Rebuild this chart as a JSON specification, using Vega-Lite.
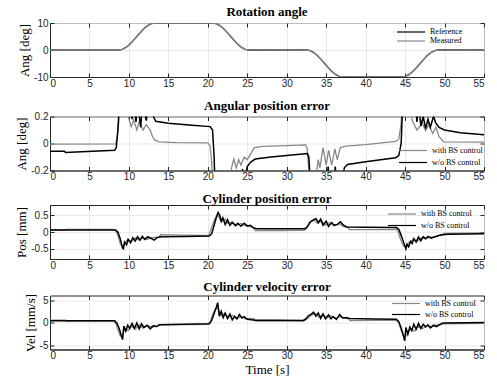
{
  "$schema": "https://vega.github.io/schema/vega-lite/v6.json",
  "background": "white",
  "padding": {"left": 15, "top": 5, "right": 5, "bottom": 5},
  "spacing": 9.5,
  "resolve": {"scale": {"color": "independent"}},
  "config": {
    "view": {"stroke": "#262626", "strokeWidth": 1},
    "axis": {
      "labelFont": "Liberation Sans", "labelFontSize": 10, "labelColor": "#262626",
      "titleFont": "Liberation Serif", "titleFontSize": 13, "titleFontWeight": "normal", "titleColor": "#000000",
      "gridColor": "#e3e3e3", "gridWidth": 0.8, "domainColor": "#262626", "tickColor": "#262626",
      "tickSize": -4, "labelExpr": "toString(datum.value)"
    },
    "axisX": {"labelPadding": 5, "titlePadding": 3},
    "axisY": {"labelPadding": 6, "titlePadding": 2},
    "title": {"font": "Liberation Serif", "fontSize": 13, "fontWeight": "bold", "color": "#000000", "offset": -1},
    "legend": {"labelFont": "Liberation Serif", "labelFontSize": 8, "labelColor": "#000000", "symbolType": "M-1,0H6", "symbolSize": 64, "symbolStrokeWidth": 1.2, "labelOffset": 24, "padding": 0, "orient": "none"}
  },
  "datasets": {
    "p1": [
      {"t": 0, "ref": 0, "meas": 0}, {"t": 8.7, "ref": 0, "meas": 0}, {"t": 9.16, "ref": 0.24, "meas": 0.22},
      {"t": 9.62, "ref": 0.95, "meas": 0.92}, {"t": 10.08, "ref": 2.06, "meas": 2.02}, {"t": 10.54, "ref": 3.46, "meas": 3.42},
      {"t": 11.0, "ref": 5, "meas": 4.96}, {"t": 11.46, "ref": 6.54, "meas": 6.5}, {"t": 11.92, "ref": 7.94, "meas": 7.9},
      {"t": 12.38, "ref": 9.05, "meas": 9.02}, {"t": 12.84, "ref": 9.76, "meas": 9.74}, {"t": 13.3, "ref": 10, "meas": 9.98},
      {"t": 20.6, "ref": 10, "meas": 10}, {"t": 21.06, "ref": 9.76, "meas": 9.78}, {"t": 21.52, "ref": 9.05, "meas": 9.08},
      {"t": 21.98, "ref": 7.94, "meas": 7.98}, {"t": 22.44, "ref": 6.54, "meas": 6.58}, {"t": 22.9, "ref": 5, "meas": 5.04},
      {"t": 23.36, "ref": 3.46, "meas": 3.5}, {"t": 23.82, "ref": 2.06, "meas": 2.1}, {"t": 24.28, "ref": 0.95, "meas": 0.98},
      {"t": 24.74, "ref": 0.24, "meas": 0.26}, {"t": 25.2, "ref": 0, "meas": 0.01}, {"t": 32.5, "ref": 0, "meas": 0},
      {"t": 32.96, "ref": -0.24, "meas": -0.22}, {"t": 33.42, "ref": -0.95, "meas": -0.92}, {"t": 33.88, "ref": -2.06, "meas": -2.02},
      {"t": 34.34, "ref": -3.46, "meas": -3.42}, {"t": 34.8, "ref": -5, "meas": -4.96}, {"t": 35.26, "ref": -6.54, "meas": -6.5},
      {"t": 35.72, "ref": -7.94, "meas": -7.9}, {"t": 36.18, "ref": -9.05, "meas": -9.02}, {"t": 36.64, "ref": -9.76, "meas": -9.74},
      {"t": 37.1, "ref": -10, "meas": -9.98}, {"t": 44.6, "ref": -10, "meas": -10}, {"t": 45.06, "ref": -9.76, "meas": -9.78},
      {"t": 45.52, "ref": -9.05, "meas": -9.08}, {"t": 45.98, "ref": -7.94, "meas": -7.98}, {"t": 46.44, "ref": -6.54, "meas": -6.58},
      {"t": 46.9, "ref": -5, "meas": -5.04}, {"t": 47.36, "ref": -3.46, "meas": -3.5}, {"t": 47.82, "ref": -2.06, "meas": -2.1},
      {"t": 48.28, "ref": -0.95, "meas": -0.98}, {"t": 48.74, "ref": -0.24, "meas": -0.26}, {"t": 49.2, "ref": 0, "meas": -0.01},
      {"t": 55, "ref": 0, "meas": 0}
    ],
    "p2w": [
      {"t": 0, "v": -0.005}, {"t": 8.3, "v": -0.003}, {"t": 8.5, "v": 0.03}, {"t": 8.7, "v": 0.15}, {"t": 8.85, "v": 0.3},
      {"t": 9.8, "v": 0.3}, {"t": 9.9, "v": 0.2}, {"t": 10.3, "v": 0.125}, {"t": 10.6, "v": 0.175}, {"t": 11.0, "v": 0.1},
      {"t": 11.3, "v": 0.16}, {"t": 11.8, "v": 0.1}, {"t": 12.2, "v": 0.14}, {"t": 12.7, "v": 0.1}, {"t": 13.0, "v": 0.05},
      {"t": 13.3, "v": 0.025}, {"t": 13.8, "v": 0.012}, {"t": 16, "v": 0.007}, {"t": 20.0, "v": 0.005}, {"t": 20.3, "v": -0.02},
      {"t": 20.5, "v": -0.15}, {"t": 20.6, "v": -0.3}, {"t": 22.8, "v": -0.3}, {"t": 23.0, "v": -0.18}, {"t": 23.3, "v": -0.115},
      {"t": 23.6, "v": -0.18}, {"t": 23.9, "v": -0.12}, {"t": 24.2, "v": -0.16}, {"t": 24.6, "v": -0.1}, {"t": 25.0, "v": -0.12},
      {"t": 25.5, "v": -0.07}, {"t": 25.9, "v": -0.03}, {"t": 27, "v": -0.022}, {"t": 30, "v": -0.015}, {"t": 32.4, "v": -0.01},
      {"t": 32.6, "v": -0.04}, {"t": 32.8, "v": -0.2}, {"t": 32.9, "v": -0.3}, {"t": 33.7, "v": -0.3}, {"t": 33.8, "v": -0.2},
      {"t": 34.0, "v": -0.12}, {"t": 34.2, "v": -0.18}, {"t": 34.6, "v": -0.03}, {"t": 35.0, "v": -0.16}, {"t": 35.3, "v": -0.05},
      {"t": 35.7, "v": -0.16}, {"t": 36.1, "v": -0.04}, {"t": 36.4, "v": -0.12}, {"t": 36.8, "v": -0.03}, {"t": 37.5, "v": -0.02},
      {"t": 40, "v": -0.008}, {"t": 43.8, "v": 0.016}, {"t": 44.2, "v": 0.03}, {"t": 44.5, "v": 0.15}, {"t": 44.6, "v": 0.3},
      {"t": 45.7, "v": 0.3}, {"t": 45.9, "v": 0.17}, {"t": 46.5, "v": 0.1}, {"t": 47.2, "v": 0.15}, {"t": 47.6, "v": 0.095},
      {"t": 48.0, "v": 0.14}, {"t": 48.5, "v": 0.074}, {"t": 48.9, "v": 0.12}, {"t": 49.3, "v": 0.05}, {"t": 49.9, "v": 0.012},
      {"t": 55, "v": 0.01}
    ],
    "p2o": [
      {"t": 0, "v": -0.057}, {"t": 1.85, "v": -0.057}, {"t": 1.95, "v": -0.067}, {"t": 4, "v": -0.062}, {"t": 8.2, "v": -0.05},
      {"t": 8.4, "v": -0.03}, {"t": 8.6, "v": 0.1}, {"t": 8.8, "v": 0.3}, {"t": 10.3, "v": 0.3}, {"t": 10.4, "v": 0.18},
      {"t": 10.6, "v": 0.3}, {"t": 10.9, "v": 0.16}, {"t": 11.1, "v": 0.3}, {"t": 11.5, "v": 0.12}, {"t": 11.7, "v": 0.3},
      {"t": 12.2, "v": 0.17}, {"t": 12.5, "v": 0.3}, {"t": 13.1, "v": 0.2}, {"t": 13.4, "v": 0.165}, {"t": 15, "v": 0.15},
      {"t": 18, "v": 0.135}, {"t": 20.3, "v": 0.125}, {"t": 20.6, "v": 0.1}, {"t": 20.8, "v": -0.1}, {"t": 20.9, "v": -0.3},
      {"t": 24.2, "v": -0.3}, {"t": 24.4, "v": -0.19}, {"t": 24.6, "v": -0.3}, {"t": 25.0, "v": -0.17}, {"t": 25.4, "v": -0.14},
      {"t": 26, "v": -0.115}, {"t": 28, "v": -0.1}, {"t": 32.6, "v": -0.075}, {"t": 32.8, "v": -0.1}, {"t": 33.0, "v": -0.3},
      {"t": 35.1, "v": -0.3}, {"t": 35.25, "v": -0.17}, {"t": 35.4, "v": -0.3}, {"t": 36.0, "v": -0.3}, {"t": 36.15, "v": -0.17},
      {"t": 36.3, "v": -0.3}, {"t": 37.0, "v": -0.3}, {"t": 37.3, "v": -0.18}, {"t": 37.7, "v": -0.155}, {"t": 40, "v": -0.135},
      {"t": 43.8, "v": -0.105}, {"t": 44.2, "v": -0.09}, {"t": 44.5, "v": 0.0}, {"t": 44.7, "v": 0.3}, {"t": 46.3, "v": 0.3},
      {"t": 46.5, "v": 0.16}, {"t": 46.7, "v": 0.3}, {"t": 47.0, "v": 0.13}, {"t": 47.3, "v": 0.2}, {"t": 47.6, "v": 0.11},
      {"t": 47.9, "v": 0.18}, {"t": 48.2, "v": 0.12}, {"t": 48.6, "v": 0.2}, {"t": 48.9, "v": 0.15}, {"t": 49.3, "v": 0.12},
      {"t": 50, "v": 0.1}, {"t": 52, "v": 0.08}, {"t": 55, "v": 0.065}
    ],
    "p3w": [
      {"t": 0, "v": 0.06}, {"t": 2, "v": 0.06}, {"t": 2.05, "v": 0.08}, {"t": 8.0, "v": 0.08}, {"t": 8.3, "v": 0.05},
      {"t": 8.6, "v": -0.1}, {"t": 8.9, "v": -0.35}, {"t": 9.2, "v": -0.45}, {"t": 9.5, "v": -0.3}, {"t": 9.9, "v": -0.22},
      {"t": 10.3, "v": -0.28}, {"t": 10.8, "v": -0.18}, {"t": 11.3, "v": -0.24}, {"t": 11.8, "v": -0.17}, {"t": 12.3, "v": -0.22},
      {"t": 12.8, "v": -0.17}, {"t": 13.3, "v": -0.16}, {"t": 13.9, "v": -0.15}, {"t": 14.0, "v": -0.08}, {"t": 17, "v": -0.09},
      {"t": 20.0, "v": -0.1}, {"t": 20.2, "v": -0.05}, {"t": 20.5, "v": 0.15}, {"t": 20.9, "v": 0.4}, {"t": 21.3, "v": 0.5},
      {"t": 21.7, "v": 0.3}, {"t": 22.2, "v": 0.38}, {"t": 22.6, "v": 0.25}, {"t": 23.1, "v": 0.3}, {"t": 23.6, "v": 0.2},
      {"t": 24.2, "v": 0.25}, {"t": 24.8, "v": 0.18}, {"t": 25.5, "v": 0.15}, {"t": 25.9, "v": 0.12}, {"t": 26.0, "v": 0.04},
      {"t": 29, "v": 0.045}, {"t": 32.2, "v": 0.05}, {"t": 32.5, "v": 0.1}, {"t": 32.9, "v": 0.28}, {"t": 33.4, "v": 0.38},
      {"t": 33.9, "v": 0.25}, {"t": 34.4, "v": 0.33}, {"t": 34.9, "v": 0.2}, {"t": 35.5, "v": 0.28}, {"t": 36.0, "v": 0.18},
      {"t": 36.6, "v": 0.25}, {"t": 37.2, "v": 0.16}, {"t": 37.8, "v": 0.14}, {"t": 37.9, "v": 0.07}, {"t": 41, "v": 0.07},
      {"t": 43.9, "v": 0.08}, {"t": 44.1, "v": 0.02}, {"t": 44.4, "v": -0.2}, {"t": 44.8, "v": -0.42}, {"t": 45.2, "v": -0.4},
      {"t": 45.6, "v": -0.28}, {"t": 46.1, "v": -0.22}, {"t": 46.6, "v": -0.27}, {"t": 47.1, "v": -0.17}, {"t": 47.6, "v": -0.2},
      {"t": 48.1, "v": -0.15}, {"t": 48.7, "v": -0.15}, {"t": 49.3, "v": -0.1}, {"t": 49.8, "v": -0.1}, {"t": 49.9, "v": -0.04},
      {"t": 55, "v": -0.03}
    ],
    "p3o": [
      {"t": 0, "v": 0.06}, {"t": 8.3, "v": 0.06}, {"t": 8.6, "v": 0.0}, {"t": 8.9, "v": -0.2}, {"t": 9.2, "v": -0.48},
      {"t": 9.3, "v": -0.5}, {"t": 9.45, "v": -0.3}, {"t": 9.7, "v": -0.38}, {"t": 9.9, "v": -0.22}, {"t": 10.2, "v": -0.32},
      {"t": 10.5, "v": -0.17}, {"t": 10.8, "v": -0.27}, {"t": 11.1, "v": -0.14}, {"t": 11.4, "v": -0.24}, {"t": 11.7, "v": -0.13},
      {"t": 12.0, "v": -0.22}, {"t": 12.4, "v": -0.14}, {"t": 12.8, "v": -0.19}, {"t": 13.2, "v": -0.24}, {"t": 13.6, "v": -0.16},
      {"t": 14.2, "v": -0.14}, {"t": 17, "v": -0.13}, {"t": 20.2, "v": -0.12}, {"t": 20.5, "v": -0.05}, {"t": 20.8, "v": 0.2},
      {"t": 21.1, "v": 0.45}, {"t": 21.3, "v": 0.58}, {"t": 21.5, "v": 0.5}, {"t": 21.7, "v": 0.32}, {"t": 21.9, "v": 0.42},
      {"t": 22.2, "v": 0.22}, {"t": 22.5, "v": 0.36}, {"t": 22.8, "v": 0.2}, {"t": 23.1, "v": 0.28}, {"t": 23.5, "v": 0.19},
      {"t": 23.8, "v": 0.26}, {"t": 24.2, "v": 0.17}, {"t": 24.6, "v": 0.26}, {"t": 25.0, "v": 0.18}, {"t": 25.4, "v": 0.2},
      {"t": 25.8, "v": 0.12}, {"t": 26.2, "v": 0.1}, {"t": 29, "v": 0.1}, {"t": 32.3, "v": 0.1}, {"t": 32.6, "v": 0.15},
      {"t": 33.0, "v": 0.3}, {"t": 33.4, "v": 0.35}, {"t": 33.7, "v": 0.4}, {"t": 34.0, "v": 0.28}, {"t": 34.3, "v": 0.38},
      {"t": 34.6, "v": 0.2}, {"t": 35.0, "v": 0.32}, {"t": 35.3, "v": 0.17}, {"t": 35.7, "v": 0.28}, {"t": 36.0, "v": 0.2},
      {"t": 36.4, "v": 0.22}, {"t": 36.8, "v": 0.3}, {"t": 37.2, "v": 0.2}, {"t": 37.6, "v": 0.15}, {"t": 40, "v": 0.14},
      {"t": 43.9, "v": 0.13}, {"t": 44.2, "v": 0.08}, {"t": 44.5, "v": -0.1}, {"t": 44.8, "v": -0.3}, {"t": 45.1, "v": -0.5},
      {"t": 45.25, "v": -0.36}, {"t": 45.45, "v": -0.44}, {"t": 45.7, "v": -0.28}, {"t": 45.9, "v": -0.34}, {"t": 46.1, "v": -0.2},
      {"t": 46.4, "v": -0.3}, {"t": 46.7, "v": -0.15}, {"t": 47.0, "v": -0.26}, {"t": 47.3, "v": -0.14}, {"t": 47.6, "v": -0.2},
      {"t": 47.9, "v": -0.13}, {"t": 48.3, "v": -0.18}, {"t": 48.7, "v": -0.15}, {"t": 49.1, "v": -0.12}, {"t": 49.6, "v": -0.08},
      {"t": 50.5, "v": -0.07}, {"t": 55, "v": -0.055}
    ],
    "p4w": [
      {"t": 0, "v": 0.5}, {"t": 2, "v": 0.5}, {"t": 2.05, "v": 0.3}, {"t": 8.0, "v": 0.3}, {"t": 8.3, "v": 0.0},
      {"t": 8.6, "v": -1.5}, {"t": 8.9, "v": -3.0}, {"t": 9.2, "v": -2.8}, {"t": 9.5, "v": -1.3}, {"t": 9.9, "v": -1.8},
      {"t": 10.3, "v": -0.8}, {"t": 10.8, "v": -1.4}, {"t": 11.3, "v": -0.6}, {"t": 11.8, "v": -1.2}, {"t": 12.4, "v": -0.7},
      {"t": 13.0, "v": -1.0}, {"t": 13.6, "v": -0.8}, {"t": 13.8, "v": -0.5}, {"t": 17, "v": -0.45}, {"t": 20.0, "v": -0.4},
      {"t": 20.3, "v": 0.2}, {"t": 20.6, "v": 1.8}, {"t": 21.0, "v": 3.2}, {"t": 21.3, "v": 3.0}, {"t": 21.7, "v": 1.5},
      {"t": 22.1, "v": 2.0}, {"t": 22.6, "v": 1.1}, {"t": 23.1, "v": 1.6}, {"t": 23.6, "v": 0.9}, {"t": 24.2, "v": 1.3},
      {"t": 24.8, "v": 0.8}, {"t": 25.4, "v": 0.9}, {"t": 25.9, "v": 0.8}, {"t": 26.0, "v": 0.3}, {"t": 29, "v": 0.3},
      {"t": 32.2, "v": 0.35}, {"t": 32.6, "v": 0.8}, {"t": 33.1, "v": 1.6}, {"t": 33.6, "v": 2.0}, {"t": 34.1, "v": 1.2},
      {"t": 34.6, "v": 1.8}, {"t": 35.1, "v": 1.0}, {"t": 35.6, "v": 1.5}, {"t": 36.2, "v": 0.9}, {"t": 36.8, "v": 1.3},
      {"t": 37.4, "v": 0.9}, {"t": 37.9, "v": 0.8}, {"t": 38.0, "v": 0.4}, {"t": 41, "v": 0.45}, {"t": 43.9, "v": 0.5},
      {"t": 44.2, "v": 0.0}, {"t": 44.5, "v": -1.8}, {"t": 44.9, "v": -3.3}, {"t": 45.3, "v": -2.5}, {"t": 45.7, "v": -1.4},
      {"t": 46.2, "v": -1.9}, {"t": 46.7, "v": -0.9}, {"t": 47.2, "v": -1.4}, {"t": 47.7, "v": -0.7}, {"t": 48.3, "v": -1.0},
      {"t": 48.9, "v": -0.6}, {"t": 49.5, "v": -0.5}, {"t": 49.8, "v": -0.3}, {"t": 55, "v": -0.2}
    ],
    "p4o": [
      {"t": 0, "v": 0.4}, {"t": 8.2, "v": 0.4}, {"t": 8.5, "v": -0.2}, {"t": 8.8, "v": -1.5}, {"t": 9.05, "v": -3.0},
      {"t": 9.2, "v": -3.8}, {"t": 9.35, "v": -0.8}, {"t": 9.6, "v": -1.9}, {"t": 9.85, "v": -0.6}, {"t": 10.1, "v": -1.3},
      {"t": 10.4, "v": -0.2}, {"t": 10.7, "v": -1.3}, {"t": 11.0, "v": -0.1}, {"t": 11.3, "v": -1.4}, {"t": 11.6, "v": -0.3},
      {"t": 11.9, "v": -1.1}, {"t": 12.3, "v": -0.6}, {"t": 12.7, "v": -1.4}, {"t": 13.1, "v": -0.7}, {"t": 13.5, "v": -0.9},
      {"t": 13.9, "v": -0.5}, {"t": 17, "v": -0.4}, {"t": 20.2, "v": -0.3}, {"t": 20.5, "v": 0.5}, {"t": 20.8, "v": 2.0},
      {"t": 21.1, "v": 3.5}, {"t": 21.25, "v": 4.4}, {"t": 21.45, "v": 1.4}, {"t": 21.7, "v": 2.5}, {"t": 21.95, "v": 1.1},
      {"t": 22.2, "v": 2.1}, {"t": 22.5, "v": 0.9}, {"t": 22.8, "v": 1.9}, {"t": 23.1, "v": 0.6}, {"t": 23.4, "v": 1.4},
      {"t": 23.7, "v": 0.8}, {"t": 24.0, "v": 1.8}, {"t": 24.3, "v": 1.0}, {"t": 24.6, "v": 1.3}, {"t": 25.0, "v": 0.7},
      {"t": 25.5, "v": 0.6}, {"t": 26, "v": 0.5}, {"t": 29, "v": 0.5}, {"t": 32.1, "v": 0.45}, {"t": 32.4, "v": 0.8},
      {"t": 32.8, "v": 1.6}, {"t": 33.1, "v": 1.8}, {"t": 33.4, "v": 2.3}, {"t": 33.7, "v": 1.4}, {"t": 34.0, "v": 2.1},
      {"t": 34.3, "v": 0.9}, {"t": 34.6, "v": 1.9}, {"t": 34.9, "v": 0.8}, {"t": 35.3, "v": 1.7}, {"t": 35.6, "v": 0.8},
      {"t": 35.9, "v": 1.3}, {"t": 36.3, "v": 0.7}, {"t": 36.7, "v": 1.8}, {"t": 37.1, "v": 1.0}, {"t": 37.5, "v": 1.1},
      {"t": 38, "v": 0.9}, {"t": 41, "v": 0.8}, {"t": 43.9, "v": 0.7}, {"t": 44.2, "v": 0.2}, {"t": 44.5, "v": -1.2},
      {"t": 44.8, "v": -3.0}, {"t": 44.95, "v": -4.1}, {"t": 45.1, "v": -1.1}, {"t": 45.35, "v": -2.6}, {"t": 45.6, "v": -1.0},
      {"t": 45.85, "v": -1.8}, {"t": 46.1, "v": -0.4}, {"t": 46.4, "v": -1.5}, {"t": 46.7, "v": -0.2}, {"t": 47.0, "v": -1.3},
      {"t": 47.3, "v": -0.4}, {"t": 47.6, "v": -1.0}, {"t": 47.9, "v": -0.5}, {"t": 48.2, "v": -1.2}, {"t": 48.6, "v": -0.6},
      {"t": 49.0, "v": -0.9}, {"t": 49.4, "v": -0.4}, {"t": 49.8, "v": -0.1}, {"t": 55, "v": 0.0}
    ]
  },
  "vconcat": [
    {
      "title": "Rotation angle",
      "width": 434, "height": 54,
      "resolve": {"axis": {"x": "independent", "y": "independent"}},
      "layer": [
        {
          "data": {"name": "p1"},
          "mark": {"type": "line", "strokeWidth": 1.3, "clip": true},
          "encoding": {
            "x": {"field": "t", "type": "quantitative", "scale": {"domain": [0, 55], "nice": false},
                  "axis": {"title": null, "values": [0, 5, 10, 15, 20, 25, 30, 35, 40, 45, 50, 55]}},
            "y": {"field": "ref", "type": "quantitative", "scale": {"domain": [-10, 10], "nice": false},
                  "axis": {"title": "Ang [deg]", "values": [-10, 0, 10]}},
            "color": {"datum": "Reference", "type": "nominal",
                      "scale": {"domain": ["Reference", "Measured"], "range": ["#000000", "#888888"]},
                      "legend": {"title": null, "legendX": 346, "legendY": 4, "rowPadding": 0}}
          }
        },
        {
          "data": {"name": "p1"},
          "mark": {"type": "line", "strokeWidth": 1.3, "clip": true},
          "encoding": {
            "x": {"field": "t", "type": "quantitative",
                  "axis": {"orient": "top", "title": null, "labels": false, "grid": false, "domain": false, "values": [0, 5, 10, 15, 20, 25, 30, 35, 40, 45, 50, 55]}},
            "y": {"field": "meas", "type": "quantitative",
                  "axis": {"orient": "right", "title": null, "labels": false, "grid": false, "domain": false, "values": [-10, 0, 10]}},
            "color": {"datum": "Measured", "type": "nominal"}
          }
        }
      ]
    },
    {
      "title": "Angular position error",
      "width": 434, "height": 54,
      "resolve": {"axis": {"x": "independent", "y": "independent"}},
      "layer": [
        {
          "data": {"name": "p2w"},
          "mark": {"type": "line", "strokeWidth": 1.3, "clip": true},
          "encoding": {
            "x": {"field": "t", "type": "quantitative", "scale": {"domain": [0, 55], "nice": false},
                  "axis": {"title": null, "values": [0, 5, 10, 15, 20, 25, 30, 35, 40, 45, 50, 55]}},
            "y": {"field": "v", "type": "quantitative", "scale": {"domain": [-0.2, 0.2], "nice": false},
                  "axis": {"title": "Ang [deg]", "values": [-0.2, 0, 0.2]}},
            "color": {"datum": "with BS control", "type": "nominal",
                      "scale": {"domain": ["with BS control", "w/o BS control"], "range": ["#888888", "#000000"]},
                      "legend": {"title": null, "legendX": 348, "legendY": 29, "rowPadding": 3}}
          }
        },
        {
          "data": {"name": "p2o"},
          "mark": {"type": "line", "strokeWidth": 1.5, "clip": true},
          "encoding": {
            "x": {"field": "t", "type": "quantitative",
                  "axis": {"orient": "top", "title": null, "labels": false, "grid": false, "domain": false, "values": [0, 5, 10, 15, 20, 25, 30, 35, 40, 45, 50, 55]}},
            "y": {"field": "v", "type": "quantitative",
                  "axis": {"orient": "right", "title": null, "labels": false, "grid": false, "domain": false, "values": [-0.2, 0, 0.2]}},
            "color": {"datum": "w/o BS control", "type": "nominal"}
          }
        }
      ]
    },
    {
      "title": "Cylinder position error",
      "width": 434, "height": 54,
      "resolve": {"axis": {"x": "independent", "y": "independent"}},
      "layer": [
        {
          "data": {"name": "p3w"},
          "mark": {"type": "line", "strokeWidth": 1.3, "clip": true},
          "encoding": {
            "x": {"field": "t", "type": "quantitative", "scale": {"domain": [0, 55], "nice": false},
                  "axis": {"title": null, "values": [0, 5, 10, 15, 20, 25, 30, 35, 40, 45, 50, 55]}},
            "y": {"field": "v", "type": "quantitative", "scale": {"domain": [-0.8, 0.8], "nice": false},
                  "axis": {"title": "Pos [mm]", "values": [-0.5, 0, 0.5]}},
            "color": {"datum": "with BS control", "type": "nominal",
                      "scale": {"domain": ["with BS control", "w/o BS control"], "range": ["#888888", "#000000"]},
                      "legend": {"title": null, "legendX": 337, "legendY": 4, "rowPadding": 2.5}}
          }
        },
        {
          "data": {"name": "p3o"},
          "mark": {"type": "line", "strokeWidth": 1.5, "clip": true},
          "encoding": {
            "x": {"field": "t", "type": "quantitative",
                  "axis": {"orient": "top", "title": null, "labels": false, "grid": false, "domain": false, "values": [0, 5, 10, 15, 20, 25, 30, 35, 40, 45, 50, 55]}},
            "y": {"field": "v", "type": "quantitative",
                  "axis": {"orient": "right", "title": null, "labels": false, "grid": false, "domain": false, "values": [-0.5, 0, 0.5]}},
            "color": {"datum": "w/o BS control", "type": "nominal"}
          }
        }
      ]
    },
    {
      "title": "Cylinder velocity error",
      "width": 434, "height": 54,
      "resolve": {"axis": {"x": "independent", "y": "independent"}},
      "layer": [
        {
          "data": {"name": "p4w"},
          "mark": {"type": "line", "strokeWidth": 1.3, "clip": true},
          "encoding": {
            "x": {"field": "t", "type": "quantitative", "scale": {"domain": [0, 55], "nice": false},
                  "axis": {"title": "Time [s]", "values": [0, 5, 10, 15, 20, 25, 30, 35, 40, 45, 50, 55]}},
            "y": {"field": "v", "type": "quantitative", "scale": {"domain": [-6, 6], "nice": false},
                  "axis": {"title": "Vel [mm/s]", "values": [-5, 0, 5]}},
            "color": {"datum": "with BS control", "type": "nominal",
                      "scale": {"domain": ["with BS control", "w/o BS control"], "range": ["#888888", "#000000"]},
                      "legend": {"title": null, "legendX": 341, "legendY": 3, "rowPadding": 2}}
          }
        },
        {
          "data": {"name": "p4o"},
          "mark": {"type": "line", "strokeWidth": 1.5, "clip": true},
          "encoding": {
            "x": {"field": "t", "type": "quantitative",
                  "axis": {"orient": "top", "title": null, "labels": false, "grid": false, "domain": false, "values": [0, 5, 10, 15, 20, 25, 30, 35, 40, 45, 50, 55]}},
            "y": {"field": "v", "type": "quantitative",
                  "axis": {"orient": "right", "title": null, "labels": false, "grid": false, "domain": false, "values": [-5, 0, 5]}},
            "color": {"datum": "w/o BS control", "type": "nominal"}
          }
        }
      ]
    }
  ]
}
